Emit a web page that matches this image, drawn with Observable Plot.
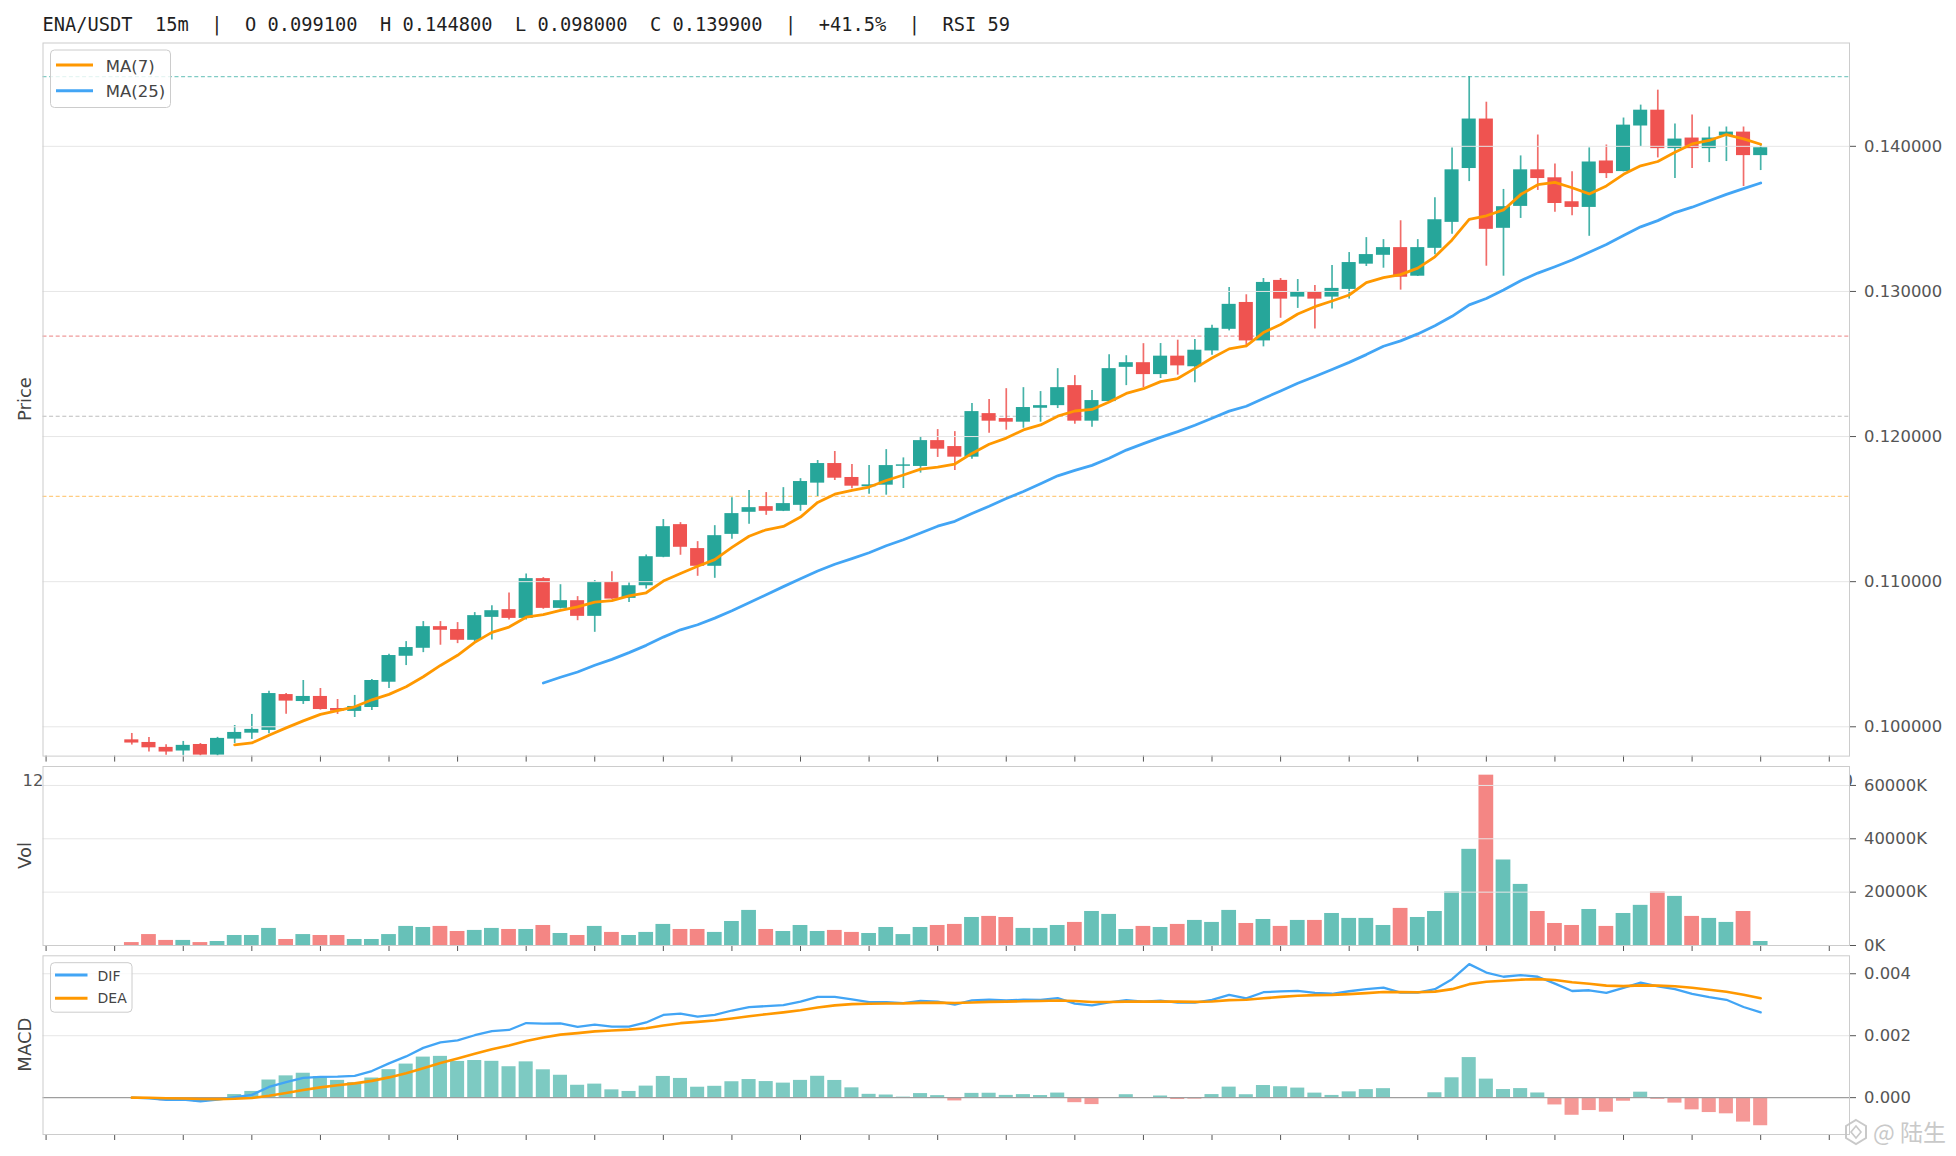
<!DOCTYPE html>
<html>
<head>
<meta charset="utf-8">
<script src="https://cdn.jsdelivr.net/npm/d3@7"></script>
<script src="https://cdn.jsdelivr.net/npm/@observablehq/plot@0.6"></script>
<style>
html, body { margin: 0; padding: 0; background: #ffffff; }
#wrap { position: relative; width: 1956px; height: 1156px; overflow: hidden; background: #ffffff; }
#wrap svg { position: absolute; left: 0; top: 0; }
</style>
</head>
<body>
<div id="wrap"></div>
<script>
// ---------------- data ----------------
const opens = [0.09910,0.09892,0.09858,0.09833,0.09878,0.09805,0.09915,0.09956,0.09975,0.10222,
0.10174,0.10209,0.10126,0.10106,0.10133,0.10307,0.10486,0.10541,0.10690,0.10670,
0.10596,0.10754,0.10807,0.10747,0.11021,0.10816,0.10869,0.10761,0.10995,0.10885,
0.10972,0.11168,0.11393,0.11228,0.11106,0.11326,0.11478,0.11517,0.11485,0.11526,
0.11679,0.11814,0.11718,0.11654,0.11665,0.11795,0.11794,0.11972,0.11931,0.11858,
0.12158,0.12124,0.12099,0.12195,0.12213,0.12351,0.12106,0.12241,0.12477,0.12509,
0.12427,0.12554,0.12481,0.12590,0.12739,0.12924,0.12659,0.13076,0.12961,0.12995,
0.12961,0.13014,0.13188,0.13249,0.13302,0.13105,0.13297,0.13476,0.13847,0.14188,
0.13435,0.13586,0.13838,0.13783,0.13618,0.13579,0.13899,0.13826,0.14140,0.14249,
0.13984,0.14057,0.13984,0.14071,0.14098,0.13936];
const highs = [0.09954,0.09927,0.09876,0.09899,0.09885,0.09927,0.10009,0.10085,0.10245,0.10229,
0.10319,0.10264,0.10188,0.10216,0.10326,0.10500,0.10587,0.10725,0.10725,0.10718,
0.10787,0.10834,0.10922,0.11053,0.11028,0.10979,0.10897,0.11007,0.11069,0.10991,
0.11184,0.11428,0.11407,0.11276,0.11386,0.11579,0.11628,0.11614,0.11648,0.11710,
0.11835,0.11897,0.11807,0.11800,0.11910,0.11853,0.12000,0.12048,0.12034,0.12227,
0.12255,0.12330,0.12337,0.12310,0.12468,0.12420,0.12317,0.12564,0.12557,0.12640,
0.12641,0.12664,0.12668,0.12767,0.13027,0.12977,0.13089,0.13089,0.13082,0.13041,
0.13178,0.13268,0.13371,0.13357,0.13487,0.13357,0.13645,0.13989,0.14480,0.14304,
0.13703,0.13934,0.14078,0.13879,0.13824,0.13989,0.14009,0.14195,0.14284,0.14387,
0.14153,0.14215,0.14133,0.14133,0.14133,0.14016];
const lows = [0.09874,0.09826,0.09803,0.09803,0.09800,0.09800,0.09885,0.09913,0.09952,0.10087,
0.10154,0.10115,0.10085,0.10064,0.10112,0.10264,0.10422,0.10511,0.10562,0.10573,
0.10585,0.10598,0.10736,0.10736,0.10810,0.10812,0.10731,0.10651,0.10878,0.10857,
0.10949,0.11165,0.11182,0.11037,0.11023,0.11292,0.11395,0.11457,0.11483,0.11485,
0.11587,0.11697,0.11640,0.11603,0.11596,0.11642,0.11748,0.11856,0.11766,0.11844,
0.12023,0.12044,0.12057,0.12099,0.12193,0.12085,0.12064,0.12238,0.12351,0.12337,
0.12400,0.12423,0.12371,0.12561,0.12728,0.12613,0.12618,0.12815,0.12883,0.12741,
0.12879,0.12947,0.13172,0.13160,0.13009,0.13103,0.13252,0.13394,0.13757,0.13174,
0.13105,0.13503,0.13696,0.13545,0.13522,0.13380,0.13778,0.13824,0.13998,0.13920,
0.13778,0.13847,0.13888,0.13895,0.13723,0.13833];
const closes = [0.09888,0.09855,0.09826,0.09872,0.09805,0.09920,0.09961,0.09982,0.10229,0.10177,
0.10209,0.10119,0.10108,0.10140,0.10319,0.10491,0.10546,0.10690,0.10665,0.10596,
0.10766,0.10800,0.10747,0.11021,0.10816,0.10869,0.10761,0.10995,0.10880,0.10972,
0.11172,0.11379,0.11237,0.11106,0.11317,0.11469,0.11510,0.11485,0.11538,0.11690,
0.11814,0.11713,0.11658,0.11667,0.11800,0.11805,0.11972,0.11913,0.11858,0.12172,
0.12106,0.12099,0.12200,0.12213,0.12337,0.12106,0.12248,0.12468,0.12509,0.12427,
0.12554,0.12487,0.12595,0.12746,0.12911,0.12659,0.13062,0.12947,0.12993,0.12947,
0.13021,0.13199,0.13254,0.13302,0.13098,0.13302,0.13494,0.13838,0.14188,0.13428,
0.13584,0.13838,0.13778,0.13606,0.13579,0.13892,0.13812,0.14146,0.14249,0.13984,
0.14050,0.13984,0.14057,0.14098,0.13936,0.13990];
const volumesK = [1100,4100,1900,1900,1100,1500,3750,3750,6400,2250,
4100,3750,3750,2250,2250,4100,7150,6750,7150,5250,
5650,6400,6000,6000,7500,4500,3750,7150,4900,3750,
4900,7900,6000,6000,4900,9000,13150,6000,5250,7500,
5250,5650,4900,4500,6750,4100,6750,7500,7900,10500,
10900,10500,6400,6400,7500,8650,12750,11650,6000,7150,
6750,7900,9400,8650,13150,8250,9750,7150,9400,9400,
12000,10150,10150,7500,13900,10500,12750,20050,36050,63850,
32050,22900,12750,8250,7500,13500,7150,12000,15050,20050,
18400,10900,10150,8650,12750,1500];

const hourTicks = [-5,-1,3,7,11,15,19,23,27,31,35,39,43,47,51,55,59,63,67,71,75,79,83,87,91,95,99];
const hourLabels = ["12:00","13:00","14:00","15:00","16:00","17:00","18:00","19:00","20:00","21:00",
"22:00","23:00","00:00","01:00","02:00","03:00","04:00","05:00","06:00","07:00","08:00","09:00",
"10:00","11:00","12:00","13:00","14:00"];
const priceTicks = [0.10, 0.11, 0.12, 0.13, 0.14];
const volTicks = [0, 20000, 40000, 60000];
const macdTicks = [0, 0.002, 0.004];
const fibRatios = [0, 0.382, 0.5, 0.618];
const fibColors = ["#80cbc4", "#ef9a9a", "#bdbdbd", "#ffcc80"];
const headerText = "ENA/USDT  15m  |  O 0.099100  H 0.144800  L 0.098000  C 0.139900  |  +41.5%  |  RSI 59";

// ---------------- colours & layout ----------------
const UP = "#26a69a", DOWN = "#ef5350", ORANGE = "#ff9800", BLUE = "#42a5f5";
const W = 1956, H = 1156;
const L = 42.5, R = 1849;
const priceTop = 42.5, priceBottom = 755.6;
const volTop = 766, volBottom = 945;
const macdTop = 955.3, macdBottom = 1134;
const xDomain = [-5.18, 100.18];
const priceDomain = [0.09798, 0.14712];
const volDomain = [0, 67100];
const macdDomain = [-0.00119, 0.00458];

// ---------------- derived tables ----------------
const candles = opens.map((o, i) => ({i, open: o, high: highs[i], low: lows[i], close: closes[i], up: closes[i] >= o, vol: volumesK[i]}));
const upC = candles.filter(d => d.up), downC = candles.filter(d => !d.up);

function sma(arr, n) {
  const out = [];
  for (let i = n - 1; i < arr.length; i++) out.push({i, v: d3.mean(arr.slice(i - n + 1, i + 1))});
  return out;
}
function ema(arr, n) {
  const a = 2 / (n + 1), out = [arr[0]];
  for (let i = 1; i < arr.length; i++) out.push(a * arr[i] + (1 - a) * out[i - 1]);
  return out;
}
const ma7 = sma(closes, 7), ma25 = sma(closes, 25);
const e12 = ema(closes, 12), e26 = ema(closes, 26);
const dif = e12.map((v, i) => v - e26[i]);
const dea = ema(dif, 9);
const macd = dif.map((v, i) => ({i, dif: v, dea: dea[i], hist: 2 * (v - dea[i])}));

const hi = d3.max(highs), lo = d3.min(lows);
const fibLevels = fibRatios.map((r, k) => ({value: hi - r * (hi - lo), color: fibColors[k]}));

const baseStyle = {background: "transparent", fontFamily: "'DejaVu Sans', sans-serif", fontSize: "16.4px", color: "#555555", overflow: "visible"};

function panel(top, bottom, yDomain, marks) {
  return Plot.plot({
    width: W, height: H,
    marginLeft: L, marginRight: W - R, marginTop: top, marginBottom: H - bottom,
    x: {type: "linear", domain: xDomain},
    y: {type: "linear", domain: yDomain},
    style: baseStyle,
    marks
  });
}
const bx1 = d => d.i - 0.41, bx2 = d => d.i + 0.41;

// ---------------- price panel ----------------
const pricePlot = panel(priceTop, priceBottom, priceDomain, [
  Plot.ruleY(fibLevels, {y: "value", stroke: d => d.color, strokeWidth: 1.2, strokeDasharray: "4,2.6"}),
  Plot.ruleX(upC, {x: "i", y1: "low", y2: "high", stroke: UP, strokeWidth: 1.7, strokeOpacity: 0.85}),
  Plot.ruleX(downC, {x: "i", y1: "low", y2: "high", stroke: DOWN, strokeWidth: 1.7, strokeOpacity: 0.85}),
  Plot.rect(upC, {x1: bx1, x2: bx2, y1: "open", y2: "close", fill: UP}),
  Plot.rect(downC, {x1: bx1, x2: bx2, y1: "open", y2: "close", fill: DOWN}),
  Plot.gridY(priceTicks, {stroke: "#e6e6e6", strokeOpacity: 1, strokeWidth: 1}),
  Plot.line(ma25, {x: "i", y: "v", stroke: BLUE, strokeWidth: 2.8}),
  Plot.line(ma7, {x: "i", y: "v", stroke: ORANGE, strokeWidth: 2.8}),
  Plot.axisY(priceTicks, {anchor: "right", tickSize: 6, tickPadding: 8.5, tickFormat: d => d.toFixed(6), label: null}),
  Plot.axisX(hourTicks, {anchor: "bottom", tickSize: 6, tickPadding: 12, tickFormat: d => hourLabels[hourTicks.indexOf(d)], label: null}),
  Plot.frame({stroke: "#cccccc"})
]);

// ---------------- volume panel ----------------
const volPlot = panel(volTop, volBottom, volDomain, [
  Plot.frame({fill: "white", stroke: "none"}),
  Plot.rect(upC, {x1: d => d.i - 0.43, x2: d => d.i + 0.43, y1: 0, y2: "vol", fill: UP, fillOpacity: 0.7}),
  Plot.rect(downC, {x1: d => d.i - 0.43, x2: d => d.i + 0.43, y1: 0, y2: "vol", fill: DOWN, fillOpacity: 0.7}),
  Plot.gridY(volTicks.slice(1), {stroke: "#e6e6e6", strokeOpacity: 1, strokeWidth: 1}),
  Plot.axisY(volTicks, {anchor: "right", tickSize: 6, tickPadding: 8.5, tickFormat: d => d + "K", label: null}),
  Plot.axisX(hourTicks, {anchor: "bottom", tickSize: 6, tickFormat: () => "", label: null}),
  Plot.frame({stroke: "#cccccc"})
]);

// ---------------- MACD panel ----------------
const histUp = macd.filter(d => d.hist >= 0), histDown = macd.filter(d => d.hist < 0);
const macdPlot = panel(macdTop, macdBottom, macdDomain, [
  Plot.frame({fill: "white", stroke: "none"}),
  Plot.gridY(macdTicks.slice(1), {stroke: "#e6e6e6", strokeOpacity: 1, strokeWidth: 1}),
  Plot.rect(histUp, {x1: bx1, x2: bx2, y1: 0, y2: "hist", fill: UP, fillOpacity: 0.6, clip: true}),
  Plot.rect(histDown, {x1: bx1, x2: bx2, y1: 0, y2: "hist", fill: DOWN, fillOpacity: 0.6, clip: true}),
  Plot.ruleY([0], {stroke: "#9e9e9e", strokeWidth: 1.3}),
  Plot.line(macd, {x: "i", y: "dif", stroke: BLUE, strokeWidth: 2.3, clip: true}),
  Plot.line(macd, {x: "i", y: "dea", stroke: ORANGE, strokeWidth: 2.6, clip: true}),
  Plot.axisY(macdTicks, {anchor: "right", tickSize: 6, tickPadding: 8.5, tickFormat: d => d.toFixed(3), label: null}),
  Plot.axisX(hourTicks, {anchor: "bottom", tickSize: 6, tickFormat: () => "", label: null}),
  Plot.frame({stroke: "#cccccc"})
]);

const wrap = document.getElementById("wrap");
wrap.append(pricePlot, volPlot, macdPlot);

// ---------------- overlay: header, axis titles, legends, watermark ----------------
const ov = d3.create("svg").attr("width", W).attr("height", H).attr("viewBox", `0 0 ${W} ${H}`);
ov.append("text").attr("x", 42.5).attr("y", 31).attr("fill", "#1f1f1f")
  .style("font-family", "'DejaVu Sans Mono', monospace").style("font-size", "18.7px").style("white-space", "pre")
  .attr("xml:space", "preserve").text(headerText);

[["Price", (priceTop + priceBottom) / 2], ["Vol", (volTop + volBottom) / 2], ["MACD", (macdTop + macdBottom) / 2]].forEach(([t, cy]) => {
  ov.append("text").attr("transform", `translate(31,${cy}) rotate(-90)`).attr("text-anchor", "middle")
    .attr("fill", "#444").style("font-family", "'DejaVu Sans', sans-serif").style("font-size", "18px").text(t);
});

function legend(x, y, w, h, items, fs) {
  const g = ov.append("g");
  g.append("rect").attr("x", x).attr("y", y).attr("width", w).attr("height", h).attr("rx", 4)
    .attr("fill", "white").attr("fill-opacity", 0.8).attr("stroke", "#cccccc").attr("stroke-width", 1);
  items.forEach(it => {
    g.append("line").attr("x1", it.lx1).attr("x2", it.lx2).attr("y1", it.ly).attr("y2", it.ly)
      .attr("stroke", it.color).attr("stroke-width", 3);
    g.append("text").attr("x", it.tx).attr("y", it.ty).attr("fill", "#444")
      .style("font-family", "'DejaVu Sans', sans-serif").style("font-size", fs).text(it.label);
  });
}
legend(50.5, 50, 120, 57.5, [
  {label: "MA(7)", color: ORANGE, lx1: 56, lx2: 93, ly: 65, tx: 105.7, ty: 71.5},
  {label: "MA(25)", color: BLUE, lx1: 56, lx2: 93, ly: 90.7, tx: 105.7, ty: 97}
], "16.5px");
legend(50.5, 962.7, 81.5, 49.5, [
  {label: "DIF", color: BLUE, lx1: 55, lx2: 87.5, ly: 975, tx: 97.5, ty: 980.7},
  {label: "DEA", color: ORANGE, lx1: 55, lx2: 87.5, ly: 998.3, tx: 97.5, ty: 1003.3}
], "14px");

// watermark
const wm = ov.append("g").attr("opacity", 0.9);
wm.append("path").attr("d", "M1856,1120 L1866,1126 L1866,1138 L1856,1144 L1846,1138 L1846,1126 Z")
  .attr("fill", "none").attr("stroke", "#c4c4c4").attr("stroke-width", 2);
wm.append("path").attr("d", "M1856,1126 L1861,1132 L1856,1138 L1851,1132 Z")
  .attr("fill", "none").attr("stroke", "#c4c4c4").attr("stroke-width", 1.6);
wm.append("text").attr("x", 1873).attr("y", 1141).attr("fill", "#c4c4c4")
  .attr("stroke", "white").attr("stroke-width", 0.6).attr("paint-order", "stroke")
  .style("font-family", "'Noto Sans CJK SC', sans-serif").style("font-size", "23px").text("@ 陆生");

wrap.append(ov.node());
</script>
</body>
</html>
